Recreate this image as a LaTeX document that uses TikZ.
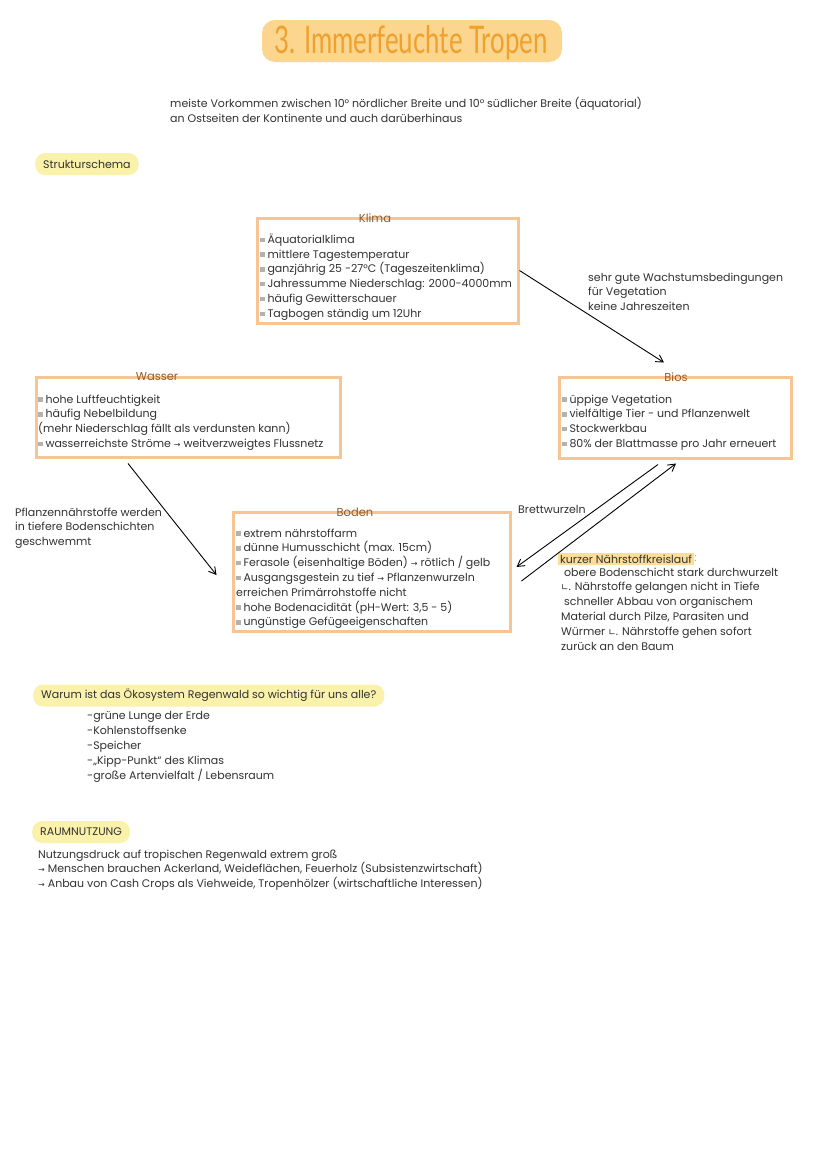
\documentclass[tikz,border=0pt]{standalone}
\usepackage{fontspec}
\setmainfont{Poppins}
\newfontfamily\titlefont[FakeStretch=0.68]{Lato}
\newfontfamily\symfont{DejaVu Sans}
\usetikzlibrary{arrows.meta}

\definecolor{boxorange}{RGB}{248,196,146}
\definecolor{labelbrown}{RGB}{150,90,35}
\definecolor{bandorange}{RGB}{252,214,142}
\definecolor{titleorange}{RGB}{240,160,45}
\definecolor{markyellow}{RGB}{250,241,170}
\definecolor{markorange}{RGB}{252,222,150}
\definecolor{inkgray}{RGB}{50,50,50}

\newcommand{\bul}{\textcolor{gray!60}{\rule[0.12em]{0.4em}{0.4em}}\ }
\newcommand{\ar}{{\symfont\fontsize{8}{10}\selectfont →}}
\newcommand{\hook}{{\symfont\fontsize{9}{10}\selectfont ∟}.}

\tikzset{
  plaintext/.style={inner sep=0pt, anchor=north west, align=left, text=inkgray,
    font=\fontsize{11}{14.8}\selectfont, execute at begin node=\strut},
  boxframe/.style={draw=boxorange, line width=3pt, minimum width=#1, inner sep=0pt},
  boxlabel/.style={text=labelbrown, inner sep=1pt, font=\fontsize{11.5}{12}\selectfont},
  yellowmark/.style={fill=markyellow, rounded corners=10pt, anchor=west, text=inkgray,
    inner xsep=8pt, minimum height=22pt, font=\fontsize{11}{12}\selectfont},
  arrow/.style={-{Straight Barb[length=7pt,width=8pt]}, line width=0.9pt, black}
}

\begin{document}
\begin{tikzpicture}[x=1pt,y=1pt,yscale=-1]
\useasboundingbox[fill=white] (0,0) rectangle (828,1171);

%Title
\node[fill=bandorange, rounded corners=13pt, minimum width=300pt, minimum height=42pt] (band) at (412,41) {};
\node[text=titleorange, font=\titlefont\fontsize{38}{40}\selectfont] (title) at (411,43) {3. Immerfeuchte Tropen};

%Intro
\node[plaintext] (intro) at (170,97.5) {meiste Vorkommen zwischen 10° nördlicher Breite und 10° südlicher Breite (äquatorial)\\an Ostseiten der Kontinente und auch darüberhinaus};

\node[yellowmark] (struktur) at (35,164) {Strukturschema};

%Klima
\node[boxframe=261pt, minimum height=105pt] (klima) at (387.5,270.5) {};
\node[boxlabel] (klimalabel) at (375,218) {Klima};
\node[plaintext] (klimatext) at (260,233.5) {\bul Äquatorialklima\\\bul mittlere Tagestemperatur\\\bul ganzjährig 25 -27°C (Tageszeitenklima)\\\bul Jahressumme Niederschlag: 2000-4000mm\\\bul häufig Gewitterschauer\\\bul Tagbogen ständig um 12Uhr};

%Wasser
\node[boxframe=304pt, minimum height=80pt] (wasser) at (188,417) {};
\node[boxlabel] (wasserlabel) at (157,377) {Wasser};
\node[plaintext] (wassertext) at (38,394.5) {\bul hohe Luftfeuchtigkeit\\\bul häufig Nebelbildung\\(mehr Niederschlag fällt als verdunsten kann)\\\bul wasserreichste Ströme \ar{} weitverzweigtes Flussnetz};

%Bios
\node[boxframe=232pt, minimum height=81pt] (bios) at (675,417.5) {};
\node[boxlabel] (bioslabel) at (676,377) {Bios};
\node[plaintext] (biostext) at (562,394.5) {\bul üppige Vegetation\\\bul vielfältige Tier - und Pflanzenwelt\\\bul Stockwerkbau\\\bul 80\% der Blattmasse pro Jahr erneuert};

%Boden
\node[boxframe=277pt, minimum height=119pt] (boden) at (371.5,571.5) {};
\node[boxlabel] (bodenlabel) at (355,512) {Boden};
\node[plaintext] (bodentext) at (236,528.5) {\bul extrem nährstoffarm\\\bul dünne Humusschicht (max. 15cm)\\\bul Ferasole (eisenhaltige Böden) \ar{} rötlich / gelb\\\bul Ausgangsgestein zu tief \ar{} Pflanzenwurzeln\\erreichen Primärrohstoffe nicht\\\bul hohe Bodenacidität (pH-Wert: 3,5 - 5)\\\bul ungünstige Gefügeeigenschaften};

%Side notes
\node[plaintext] (wachstum) at (588,272.5) {sehr gute Wachstumsbedingungen\\für Vegetation\\keine Jahreszeiten};
\node[plaintext] (naehrstoffe) at (15,507.5) {Pflanzennährstoffe werden\\in tiefere Bodenschichten\\geschwemmt};
\node[plaintext] (brett) at (518,502.5) {Brettwurzeln};
\node[fill=markorange, inner xsep=2pt, inner ysep=1.5pt, anchor=west, text=inkgray, font=\fontsize{11}{12}\selectfont,
  label={[inner sep=0pt, text=titleorange, font=\fontsize{11}{12}\selectfont]east::}] (kreislauf) at (558,559) {kurzer Nährstoffkreislauf};
\node[plaintext] (kreislauftext) at (561,567.5) {\ obere Bodenschicht stark durchwurzelt\\\hook{} Nährstoffe gelangen nicht in Tiefe\\\ schneller Abbau von organischem\\Material durch Pilze, Parasiten und\\Würmer \hook{} Nährstoffe gehen sofort\\zurück an den Baum};

%Arrows
\draw[arrow] (klima.east) -- ([shift={(-11,-13)}]bios.north);
\draw[arrow] ([shift={(-60,5)}]wasser.south) -- ([shift={(-15,3.5)}]boden.west);
\draw[arrow] ([shift={(-17,5)}]bios.south) -- ([shift={(5,-4.5)}]boden.east);
\draw[arrow] ([shift={(10,9.5)}]boden.east) -- ([shift={(1,4)}]bios.south);

%Warum
\node[yellowmark] (warum) at (33,695.5) {Warum ist das Ökosystem Regenwald so wichtig für uns alle?};
\node[plaintext] (warumtext) at (87,711.5) {-grüne Lunge der Erde\\-Kohlenstoffsenke\\-Speicher\\-„Kipp-Punkt“ des Klimas\\-große Artenvielfalt / Lebensraum};

%Raumnutzung
\node[yellowmark] (raum) at (32,832) {RAUMNUTZUNG};
\node[plaintext] (raumtext) at (38,849.5) {Nutzungsdruck auf tropischen Regenwald extrem groß\\\ar{} Menschen brauchen Ackerland, Weideflächen, Feuerholz (Subsistenzwirtschaft)\\\ar{} Anbau von Cash Crops als Viehweide, Tropenhölzer (wirtschaftliche Interessen)};
\end{tikzpicture}
\end{document}
